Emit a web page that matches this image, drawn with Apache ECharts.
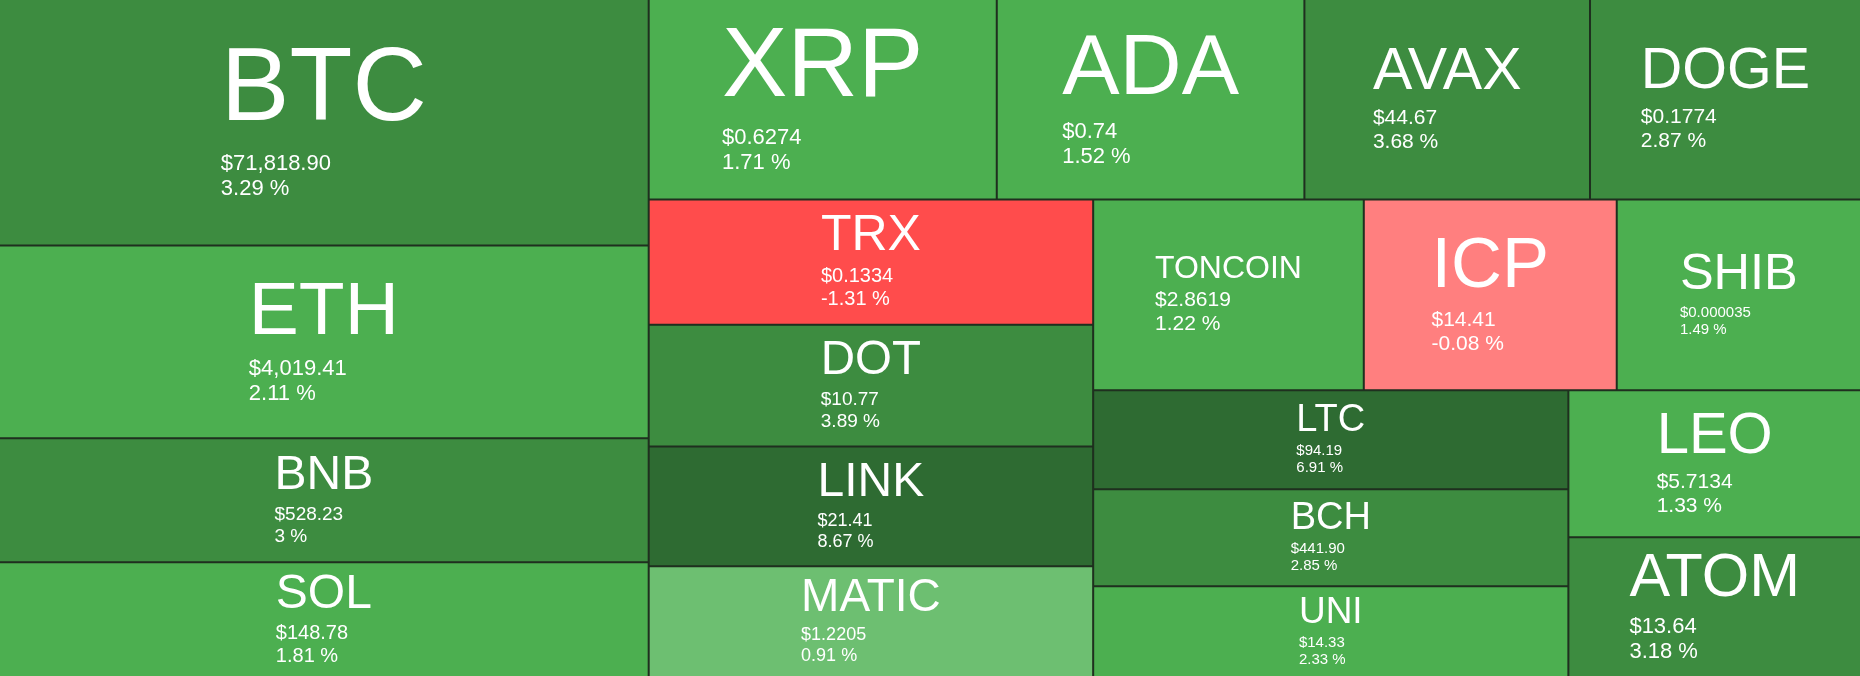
<!DOCTYPE html>
<html>
<head>
<meta charset="utf-8">
<script src="https://cdn.jsdelivr.net/npm/echarts/dist/echarts.min.js"></script>
<style>
html, body { margin: 0; padding: 0; background: #1f2f1f; }
#chart { width: 1860px; height: 676px; }
</style>
</head>
<body>
<div id="chart"></div>
<script>
// ---- data ----
const names = ['BTC', 'ETH', 'BNB', 'SOL', 'XRP', 'ADA', 'AVAX', 'DOGE', 'TRX', 'DOT',
  'LINK', 'MATIC', 'TONCOIN', 'ICP', 'SHIB', 'LTC', 'BCH', 'UNI', 'LEO', 'ATOM'];
const prices = [71818.90, 4019.41, 528.23, 148.78, 0.6274, 0.74, 44.67, 0.1774, 0.1334, 10.77,
  21.41, 1.2205, 2.8619, 14.41, 0.000035, 94.19, 441.90, 14.33, 5.7134, 13.64];
const changes = [3.29, 2.11, 3, 1.81, 1.71, 1.52, 3.68, 2.87, -1.31, 3.89,
  8.67, 0.91, 1.22, -0.08, 1.49, 6.91, 2.85, 2.33, 1.33, 3.18];
// tile size (area)
const tileSizes = [159.46, 124.80, 80.28, 74.18, 69.54, 61.46, 57.06, 54.14, 55.37, 53.99,
  52.93, 49.06, 51.36, 48.01, 46.36, 46.85, 45.95, 42.96, 42.88, 40.72];

// grouping of the tiles into strips; BREAK starts a new strip inside a group
const BREAK = '/';
const layoutTree = [
  ['BTC', BREAK, ['ETH', 'BNB', 'SOL']],
  BREAK,
  [
    ['XRP', BREAK, 'ADA', BREAK, 'AVAX', BREAK, 'DOGE'],
    [
      ['TRX', BREAK, ['DOT', 'LINK', 'MATIC']],
      BREAK,
      [
        ['TONCOIN', BREAK, 'ICP', BREAK, 'SHIB'],
        [['LTC', 'BCH', 'UNI'], BREAK, ['LEO', 'ATOM']]
      ]
    ]
  ]
];

// ---- label styling ----
const FONT = 'Liberation Sans, Arial, sans-serif';
const nameFont = { BTC: 103, ETH: 75, BNB: 48, SOL: 48, XRP: 98, ADA: 86, AVAX: 59, DOGE: 57.5,
  TRX: 50, DOT: 47.5, LINK: 48, MATIC: 46, TONCOIN: 32, ICP: 70.5, SHIB: 50.5, LTC: 38, BCH: 38,
  UNI: 37, LEO: 58, ATOM: 61 };
const infoFont = { BTC: 22, ETH: 22, BNB: 19, SOL: 20, XRP: 22, ADA: 22, AVAX: 21, DOGE: 21,
  TRX: 20, DOT: 19, LINK: 18, MATIC: 18, TONCOIN: 21, ICP: 21, SHIB: 15, LTC: 15, BCH: 15,
  UNI: 15, LEO: 21, ATOM: 22 };

function tileColor(c) {
  if (c < -1) return '#ff4c4c';
  if (c < 0) return '#ff7f7f';
  if (c < 1) return '#6dbf71';
  if (c < 2.5) return '#4caf50';
  if (c < 5) return '#3d8c40';
  return '#2e6b32';
}
function fmtPrice(p) {
  return '$' + p.toLocaleString('en-US', { minimumFractionDigits: 2, maximumFractionDigits: 6 });
}
function fmtChange(c) { return c + ' %'; }

const measureCtx = document.createElement('canvas').getContext('2d');
function textWidth(s, size) {
  measureCtx.font = size + 'px ' + FONT;
  return measureCtx.measureText(s).width;
}

let groupId = 0;
function buildNodes(items, boxes) {
  return items.map(function (it) {
    if (it === BREAK) {
      return { name: '', value: 1e-9, itemStyle: { color: 'rgba(0,0,0,0)' }, label: { show: false } };
    }
    if (Array.isArray(it)) {
      return { name: 'group' + (groupId++), children: buildNodes(it, boxes) };
    }
    const i = names.indexOf(it);
    const F = nameFont[it], f = infoFont[it];
    const lhN = Math.round(F * 1.15), lhV = Math.round(f * 1.15);
    const price = fmtPrice(prices[i]), pct = fmtChange(changes[i]);
    const label = {
      show: true,
      formatter: '{n|' + it + '}\n{v|' + price + '}\n{v|' + pct + '}',
      rich: {
        n: { fontSize: F, lineHeight: lhN, color: '#fff', fontFamily: FONT, align: 'left' },
        v: { fontSize: f, lineHeight: lhV, color: '#fff', fontFamily: FONT, align: 'left' }
      }
    };
    const box = boxes && boxes[it];
    if (box) {
      const blockW = Math.max(textWidth(it, F), textWidth(price, f), textWidth(pct, f));
      const blockH = lhN + 2 * lhV;
      const padLeft = Math.max((box.w - blockW) / 2, 0);
      const padTop = Math.max((box.h - blockH) / 2 - 0.05 * F, 0);
      label.padding = [padTop, 0, 0, padLeft];
    }
    return {
      name: it,
      value: tileSizes[i],
      itemStyle: { color: tileColor(changes[i]) },
      label: label
    };
  });
}

function buildOption(boxes) {
  groupId = 0;
  return {
    animation: false,
    backgroundColor: '#1f2f1f',
    series: [{
      type: 'treemap',
      left: 0, top: 0, right: 0, bottom: 0,
      sort: false,
      squareRatio: 1000,
      roam: false,
      nodeClick: false,
      breadcrumb: { show: false },
      itemStyle: { borderWidth: 0, gapWidth: 2, borderColor: '#1f2f1f' },
      label: { show: true, position: 'inside', color: '#fff', fontFamily: FONT },
      upperLabel: { show: false },
      emphasis: { disabled: true },
      data: buildNodes(layoutTree, boxes)
    }]
  };
}

const chart = echarts.init(document.getElementById('chart'), null, { renderer: 'canvas' });
chart.setOption(buildOption(null), true);

// read the tile sizes computed by the treemap layout to centre each label block
try {
  const boxes = {};
  const data = chart.getModel().getSeriesByIndex(0).getData();
  data.tree.eachNode(function (node) {
    if ((!node.children || !node.children.length) && names.indexOf(node.name) >= 0) {
      const l = node.getLayout();
      if (l) boxes[node.name] = { w: l.width, h: l.height };
    }
  });
  chart.setOption(buildOption(boxes), true);
} catch (e) {
  console.error(e);
}
</script>
</body>
</html>
